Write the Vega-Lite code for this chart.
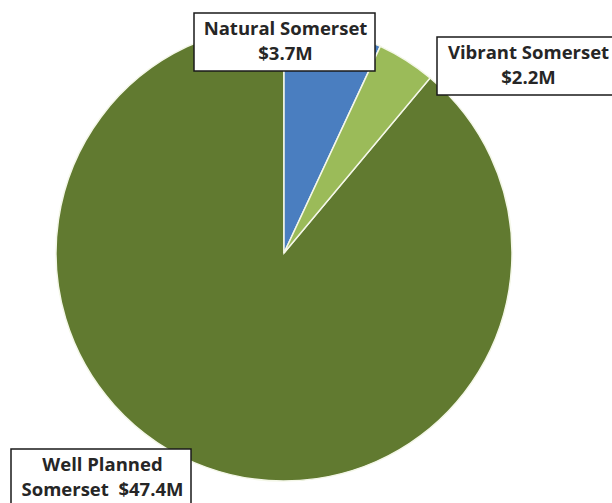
{
  "$schema": "https://vega.github.io/schema/vega-lite/v6.json",
  "width": 568,
  "height": 506,
  "padding": 0,
  "background": "white",
  "data": {
    "values": [
      {"category": "Natural Somerset", "value": 3.7, "label": "Natural Somerset|$3.7M"},
      {"category": "Vibrant Somerset", "value": 2.2, "label": "Vibrant Somerset|$2.2M"},
      {"category": "Well Planned Somerset", "value": 47.4, "label": "Well Planned|Somerset\u00a0 $47.4M"}
    ]
  },
  "transform": [
    {"stack": "value", "groupby": [], "offset": "normalize", "sort": [{"field": "category", "order": "ascending"}], "as": ["v0", "v1"]}
  ],
  "layer": [
    {
      "transform": [{"filter": "datum.category === 'Well Planned Somerset'"}],
      "mark": {"type": "arc", "radius": 228, "stroke": "#f4f7e8", "strokeWidth": 1.5},
      "encoding": {
        "theta": {"field": "v0", "type": "quantitative", "scale": {"domain": [0, 1]}},
        "theta2": {"field": "v1"},
        "color": {
          "field": "label", "type": "nominal",
          "scale": {"range": ["#617A30"]},
          "legend": {"orient": "none", "legendX": 11, "legendY": 449, "title": null, "labelExpr": "split(datum.label, '|')"}
        }
      }
    },
    {
      "transform": [{"filter": "datum.category === 'Natural Somerset'"}],
      "mark": {"type": "arc", "radius": 228, "stroke": "#f4f7e8", "strokeWidth": 1.5},
      "encoding": {
        "theta": {"field": "v0", "type": "quantitative", "scale": {"domain": [0, 1]}},
        "theta2": {"field": "v1"},
        "color": {
          "field": "label", "type": "nominal",
          "scale": {"range": ["#4A7EC0"]},
          "legend": {"orient": "none", "legendX": 194, "legendY": 13, "title": null, "labelExpr": "split(datum.label, '|')"}
        }
      }
    },
    {
      "transform": [{"filter": "datum.category === 'Vibrant Somerset'"}],
      "mark": {"type": "arc", "radius": 228, "stroke": "#f4f7e8", "strokeWidth": 1.5},
      "encoding": {
        "theta": {"field": "v0", "type": "quantitative", "scale": {"domain": [0, 1]}},
        "theta2": {"field": "v1"},
        "color": {
          "field": "label", "type": "nominal",
          "scale": {"range": ["#9BBB59"]},
          "legend": {"orient": "none", "legendX": 437, "legendY": 37, "title": null, "labelExpr": "split(datum.label, '|')"}
        }
      }
    }
  ],
  "resolve": {"scale": {"color": "independent"}},
  "config": {
    "view": {"stroke": null},
    "style": {"guide-label": {"lineHeight": 25}},
    "legend": {
      "symbolSize": 0,
      "symbolOpacity": 0,
      "symbolStrokeWidth": 0,
      "labelFont": "Open Sans",
      "labelFontSize": 18.5,
      "labelFontWeight": "bold",
      "labelColor": "#262626",
      "labelAlign": "center",
      "labelOffset": 66,
      "labelLimit": 400,
      "padding": 7,
      "fillColor": "white",
      "strokeColor": "#1a1a1a",
      "strokeWidth": 1.5
    }
  }
}
